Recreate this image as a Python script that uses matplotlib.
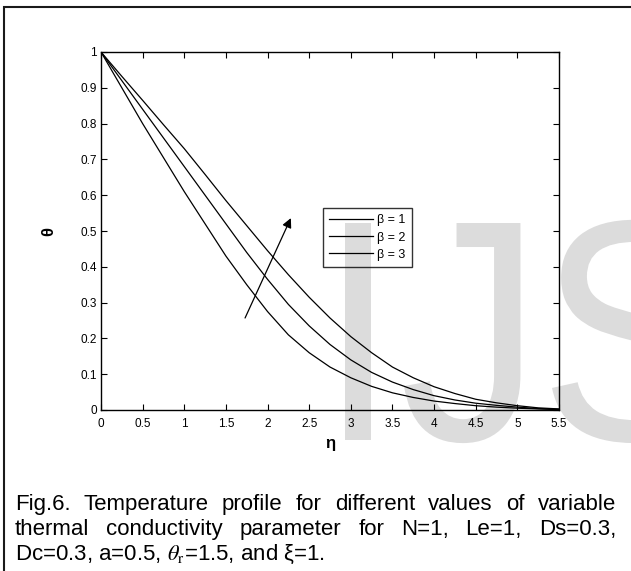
import matplotlib
matplotlib.use("Agg")
import matplotlib.pyplot as plt
from matplotlib.lines import Line2D
from matplotlib.textpath import TextPath
from matplotlib.patches import PathPatch
from matplotlib.font_manager import FontProperties
from matplotlib.transforms import Affine2D

plt.rcParams['font.family'] = ['Liberation Sans', 'DejaVu Sans']
plt.rcParams['mathtext.fontset'] = 'stix'

# ---- data ----
eta = [0, 0.25, 0.5, 0.75, 1.0, 1.25, 1.5, 1.75, 2.0, 2.25, 2.5, 2.75, 3.0,
       3.25, 3.5, 3.75, 4.0, 4.25, 4.5, 4.75, 5.0, 5.25, 5.5]
theta_b1 = [1.0, 0.90, 0.80, 0.705, 0.61, 0.52, 0.43, 0.35, 0.275, 0.21, 0.16,
            0.12, 0.09, 0.066, 0.048, 0.035, 0.025, 0.018, 0.012, 0.008, 0.005,
            0.003, 0.001]
theta_b2 = [1.0, 0.92, 0.84, 0.76, 0.68, 0.60, 0.52, 0.44, 0.365, 0.295, 0.235,
            0.183, 0.14, 0.105, 0.078, 0.057, 0.04, 0.028, 0.019, 0.013, 0.008,
            0.004, 0.002]
theta_b3 = [1.0, 0.932, 0.865, 0.797, 0.73, 0.658, 0.585, 0.515, 0.445, 0.378,
            0.315, 0.257, 0.205, 0.16, 0.12, 0.09, 0.065, 0.046, 0.03, 0.02,
            0.012, 0.006, 0.003]
series_labels = ['β = 1', 'β = 2', 'β = 3']
xticks = [0, 0.5, 1, 1.5, 2, 2.5, 3, 3.5, 4, 4.5, 5, 5.5]
xticklabels = ['0', '0.5', '1', '1.5', '2', '2.5', '3', '3.5', '4', '4.5', '5', '5.5']
yticks = [0, 0.1, 0.2, 0.3, 0.4, 0.5, 0.6, 0.7, 0.8, 0.9, 1]
yticklabels = ['0', '0.1', '0.2', '0.3', '0.4', '0.5', '0.6', '0.7', '0.8', '0.9', '1']
arrow_tail = (1.73, 0.257)
arrow_head = (2.28, 0.536)
caption_lines = [
    "Fig.6. Temperature profile for different values of variable",
    "thermal conductivity parameter for N=1, Le=1, Ds=0.3,",
]
caption_last = r"Dc=0.3, a=0.5, $\theta_{\mathrm{r}}$=1.5, and ξ=1."
watermark_letters = ['I', 'J', 'S']

W, H = 631, 571
fig = plt.figure(figsize=(W / 100, H / 100), dpi=100)

# ---- watermark (behind everything), slightly condensed letters ----
fp = FontProperties(family='Liberation Sans')
sy = 217 / 0.688
sx = 0.9 * sy
letter_left = [345, 404, 552]
for ch, xl in zip(watermark_letters, letter_left):
    tp = TextPath((0, 0), ch, size=1, prop=fp)
    ext = tp.get_extents()
    tr = Affine2D().translate(-ext.x0, 0).scale(sx, sy).translate(xl, H - 440)
    fig.patches.append(PathPatch(tp, transform=tr, facecolor='#dcdcdc',
                                 edgecolor='none', zorder=-5))

# ---- outer frame (left and top edges visible) ----
fig.lines.append(Line2D([4 / W, 4 / W, 1.0], [0.0, 1 - 7 / H, 1 - 7 / H],
                        transform=fig.transFigure, color='#1a1a1a', lw=1.5,
                        solid_joinstyle='miter', zorder=1))

ax = fig.add_axes([101 / W, 1 - 410 / H, 458 / W, 358 / H])
ax.patch.set_alpha(0)
for ys, lab in zip([theta_b1, theta_b2, theta_b3], series_labels):
    ax.plot(eta, ys, color='black', lw=0.9, label=lab)

ax.set_xlim(0, 5.5)
ax.set_ylim(0, 1)
ax.set_xticks(xticks)
ax.set_xticklabels(xticklabels)
ax.set_yticks(yticks)
ax.set_yticklabels(yticklabels)
ax.tick_params(direction='in', top=True, right=True, length=4, width=0.8,
               labelsize=8.5)
ax.tick_params(axis='x', pad=5.5)
ax.tick_params(axis='y', pad=3)
for s in ax.spines.values():
    s.set_linewidth(1.0)

ax.set_xlabel('η', fontsize=12, fontweight='bold')
ax.set_ylabel('θ', fontsize=12, fontweight='bold')
ax.xaxis.set_label_coords(0.5, (410 - 436) / 358)
ax.yaxis.set_label_coords((56 - 101) / 458, 0.5)

leg = ax.legend(loc='upper left', bbox_to_anchor=((322.7 - 101) / 458, (410 - 208) / 358),
                frameon=True, fancybox=False, edgecolor='black',
                fontsize=9, handlelength=3.5, handletextpad=0.35,
                borderpad=0.5, labelspacing=0.42, borderaxespad=0)
leg.get_frame().set_linewidth(1.0)
leg.get_frame().set_facecolor('none')

ax.annotate('', xy=arrow_head, xytext=arrow_tail,
            arrowprops=dict(arrowstyle='-|>', color='black', lw=0.9,
                            mutation_scale=14, shrinkA=0, shrinkB=0))

# ---- caption with justified lines ----
props = dict(fontsize=16, color='black', family='Liberation Sans')
left_px, right_px = 15, 616
baselines = [510, 535, 560]
fig.canvas.draw()
r = fig.canvas.get_renderer()


def width_px(w):
    t = fig.text(0, 0, w, **props)
    bb = t.get_window_extent(r)
    t.remove()
    return bb.width


for line, base in zip(caption_lines, baselines[:2]):
    words = line.split(' ')
    ws = [width_px(w) for w in words]
    gap = (right_px - left_px - sum(ws)) / (len(words) - 1)
    x = left_px
    for w, wd in zip(words, ws):
        fig.text(x / W, 1 - base / H, w, ha='left', va='baseline', **props)
        x += wd + gap

fig.text(left_px / W, 1 - baselines[2] / H, caption_last, ha='left',
         va='baseline', **props)

fig.savefig('out.png', dpi=100)
